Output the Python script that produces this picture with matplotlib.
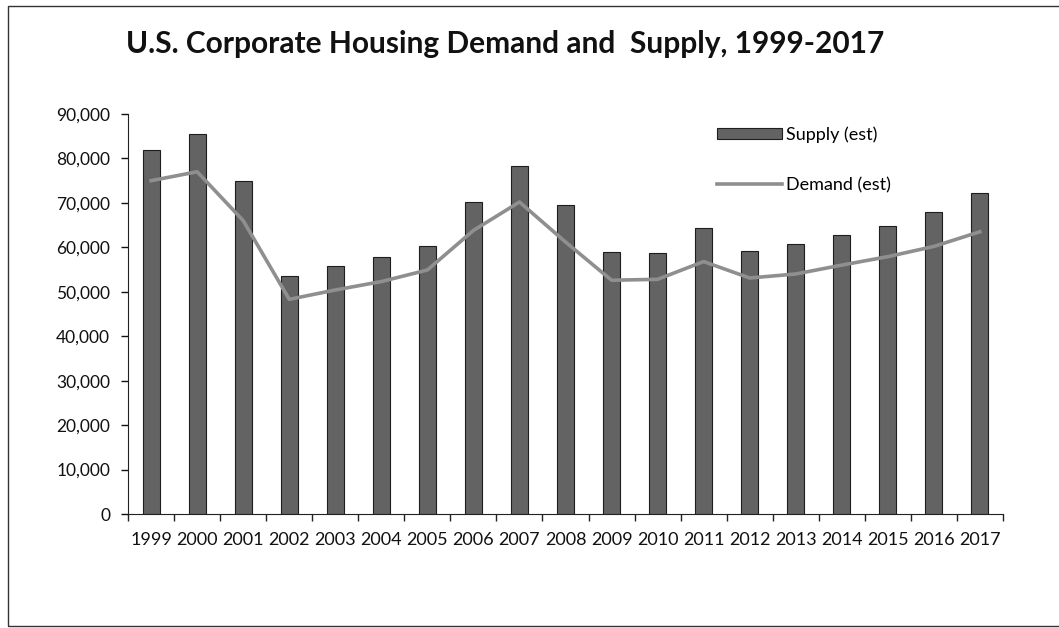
import numpy as np
import matplotlib
matplotlib.use('Agg')
import matplotlib.pyplot as plt
from matplotlib.patches import Rectangle
from matplotlib.ticker import FuncFormatter

plt.rcParams['font.family'] = ['Lato', 'DejaVu Sans']

years = ['1999', '2000', '2001', '2002', '2003', '2004', '2005', '2006', '2007', '2008',
         '2009', '2010', '2011', '2012', '2013', '2014', '2015', '2016', '2017']
supply = [82000, 85500, 75000, 53500, 55800, 57900, 60300, 70300, 78300, 69500,
          58900, 58800, 64300, 59200, 60700, 62800, 64800, 67900, 72300]
demand = [75000, 77000, 66000, 48300, 50400, 52300, 54900, 63800, 70200, 61200,
          52600, 52800, 56800, 53100, 54000, 56000, 57900, 60200, 63500]

fig = plt.figure(figsize=(10.59, 6.28), dpi=100)
ax = fig.add_axes([0.121, 0.1815, 0.826, 0.637])

x = np.arange(len(years))
bars = ax.bar(x, supply, width=0.37, color='#636363', edgecolor='#1e1e1e', linewidth=0.8,
              label='Supply (est)', zorder=2)
line, = ax.plot(x, demand, color='#8f8f8f', linewidth=2.6, label='Demand (est)', zorder=3)

ax.set_xlim(-0.5, len(years) - 0.5)
ax.set_ylim(0, 90000)
ax.set_yticks(np.arange(0, 90001, 10000))
ax.yaxis.set_major_formatter(FuncFormatter(lambda v, p: f'{int(v):,}'))
ax.set_xticks(x)
ax.set_xticklabels(years)
ax.set_xticks(np.arange(-0.5, len(years), 1), minor=True)
ax.tick_params(axis='x', which='major', length=0, pad=13, labelsize=13, colors='#111')
ax.tick_params(axis='x', which='minor', length=5, width=1, color='#222')
ax.tick_params(axis='y', length=5, width=1, pad=8, labelsize=12.5, colors='#111')
for s in ['top', 'right']:
    ax.spines[s].set_visible(False)
ax.spines['left'].set_color('#222')
ax.spines['bottom'].set_color('#222')

ax.legend([bars, line], ['Supply (est)', 'Demand (est)'], loc='upper left',
          bbox_to_anchor=(0.655, 1.01), frameon=False, fontsize=13,
          labelspacing=1.9, handlelength=3.6, handletextpad=0.2, handleheight=0.6)

fig.text(0.477, 0.93, 'U.S. Corporate Housing Demand and  Supply, 1999-2017',
         ha='center', va='center', fontsize=21.5, fontweight='bold', color='#111')

fig.patches.append(Rectangle((8 / 1059, 2 / 628), 1.0, 620 / 628, transform=fig.transFigure,
                             fill=False, edgecolor='#333', linewidth=1.0))

plt.savefig('out.png', dpi=100)
